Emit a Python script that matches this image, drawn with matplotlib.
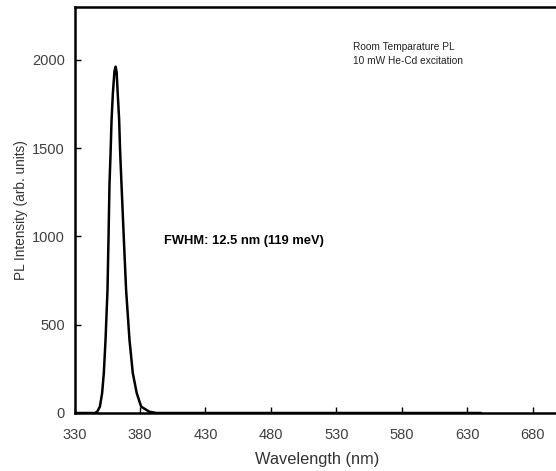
import matplotlib
matplotlib.use("Agg")
import matplotlib.pyplot as plt

wavelength = [330, 345.5, 347.3, 349.4, 351.1, 352.4, 353.7, 355.2, 356.0, 356.7, 357.5, 358.3,
              359.3, 360.5, 361.4, 362.2, 363.0, 364.1, 364.8, 365.6, 366.4, 367.6, 369.4, 372.0, 374.5,
              377.5, 380.9, 387.2, 392.7, 640]
intensity = [0, 0, 7, 36, 113, 227, 414, 697, 1000, 1292, 1462, 1660,
             1811, 1935, 1962, 1930, 1811, 1660, 1490, 1348, 1207, 999, 697, 414, 227,
             113, 36, 7, 0, 0]
xticks = [330, 380, 430, 480, 530, 580, 630, 680]
yticks = [0, 500, 1000, 1500, 2000]

plt.rcParams['font.family'] = ['Liberation Sans', 'DejaVu Sans']
fig = plt.figure(figsize=(5.56, 4.71), dpi=100)
W, H = 556, 471
ax = fig.add_axes([74.5 / W, 58 / H, 484.5 / W, 406 / H])
ax.plot(wavelength, intensity, color='black', lw=1.8)
ax.set_xlim(330, 700)
ax.set_ylim(0, 2300)
ax.set_xticks(xticks)
ax.set_yticks(yticks)
ax.tick_params(direction='in', length=4, width=1, labelsize=10.5, labelcolor='#404040')
ax.tick_params(axis='x', pad=11)
ax.tick_params(axis='y', pad=7)
for s in ['left', 'bottom', 'top', 'right']:
    ax.spines[s].set_linewidth(1.8)
ax.set_xlabel('Wavelength (nm)', fontsize=11.8, color='#333333', labelpad=7)
ax.set_ylabel('PL Intensity (arb. units)', fontsize=9.8, color='#333333', labelpad=3)

fig.text(353 / W, 1 - 46.7 / H, 'Room Temparature PL', fontsize=7.3, va='center', ha='left', color='#222222')
fig.text(353 / W, 1 - 60.7 / H, '10 mW He-Cd excitation', fontsize=7.3, va='center', ha='left', color='#222222')
fig.text(164 / W, 1 - 240.7 / H, 'FWHM: 12.5 nm (119 meV)', fontsize=9.3, fontweight='bold', va='center', ha='left')

fig.savefig('out.png', dpi=100)
